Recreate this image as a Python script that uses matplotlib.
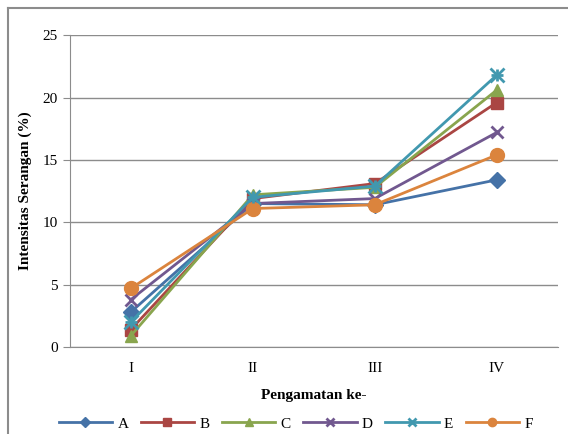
import matplotlib
matplotlib.use('Agg')
import matplotlib.pyplot as plt
from matplotlib.lines import Line2D

plt.rcParams['font.family'] = ['Liberation Serif', 'DejaVu Serif']

pengamatan = ["I", "II", "III", "IV"]
A = [2.8, 11.5, 11.4, 13.4]
B = [1.4, 11.9, 13.1, 19.6]
C = [0.9, 12.2, 12.8, 20.6]
D = [3.8, 11.5, 11.9, 17.2]
E = [2.0, 12.0, 12.9, 21.8]
F = [4.7, 11.1, 11.4, 15.4]

series = [("A", A, "#4572A7", "D", 8),
          ("B", B, "#AA4643", "s", 9),
          ("C", C, "#89A54E", "^", 9),
          ("D", D, "#71588F", "x", 9),
          ("E", E, "#4198AF", "x", 10),
          ("F", F, "#DB843D", "o", 10)]

fig = plt.figure(figsize=(5.68, 4.34), dpi=100)
ax = fig.add_axes([0.123, 0.2005, 0.859, 0.7185])
x = range(1, len(pengamatan) + 1)
for name, vals, col, mk, ms in series:
    ax.plot(x, vals, color=col, marker=mk, markersize=ms, linewidth=2,
            markeredgewidth=2 if mk == "x" else 1, markeredgecolor=col, label=name)
# asterisk-like for E: add + overlay
ax.plot(x, E, linestyle='none', marker='+', markersize=8, markeredgewidth=2, color="#4198AF")

ax.set_xlim(0.5, 4.5)
ax.set_ylim(0, 25)
ax.set_yticks([0, 5, 10, 15, 20, 25])
ax.set_xticks(list(x))
ax.set_xticklabels(pengamatan)
ax.grid(axis='y', color='#8c8c8c', linewidth=1)
ax.set_axisbelow(True)
for s in ['top', 'right']:
    ax.spines[s].set_visible(False)
ax.spines['left'].set_color('#8c8c8c')
ax.spines['bottom'].set_color('#8c8c8c')
ax.tick_params(axis='both', labelsize=11, colors='black')
ax.tick_params(axis='x', length=0, pad=11)
ax.tick_params(axis='y', color='#8c8c8c', length=5)
ax.set_ylabel("Intensitas Serangan (%)", fontsize=11, fontweight='bold', labelpad=8)
ax.set_xlabel("Pengamatan ke-", fontsize=11, fontweight='bold', labelpad=10)
ax.legend(loc='upper center', bbox_to_anchor=(0.463, -0.18), ncol=6, frameon=False,
          fontsize=11, handlelength=3.5, columnspacing=0.8, handletextpad=0.35,
          markerscale=0.6)

# chart border (only left and top visible in reference)
fig.add_artist(Line2D([8/568, 8/568], [0, 1 - 8/434], transform=fig.transFigure,
                      color='#8c8c8c', linewidth=1.5))
fig.add_artist(Line2D([8/568, 1], [1 - 8/434, 1 - 8/434], transform=fig.transFigure,
                      color='#8c8c8c', linewidth=1.5))
fig.savefig("out.png", dpi=100)
